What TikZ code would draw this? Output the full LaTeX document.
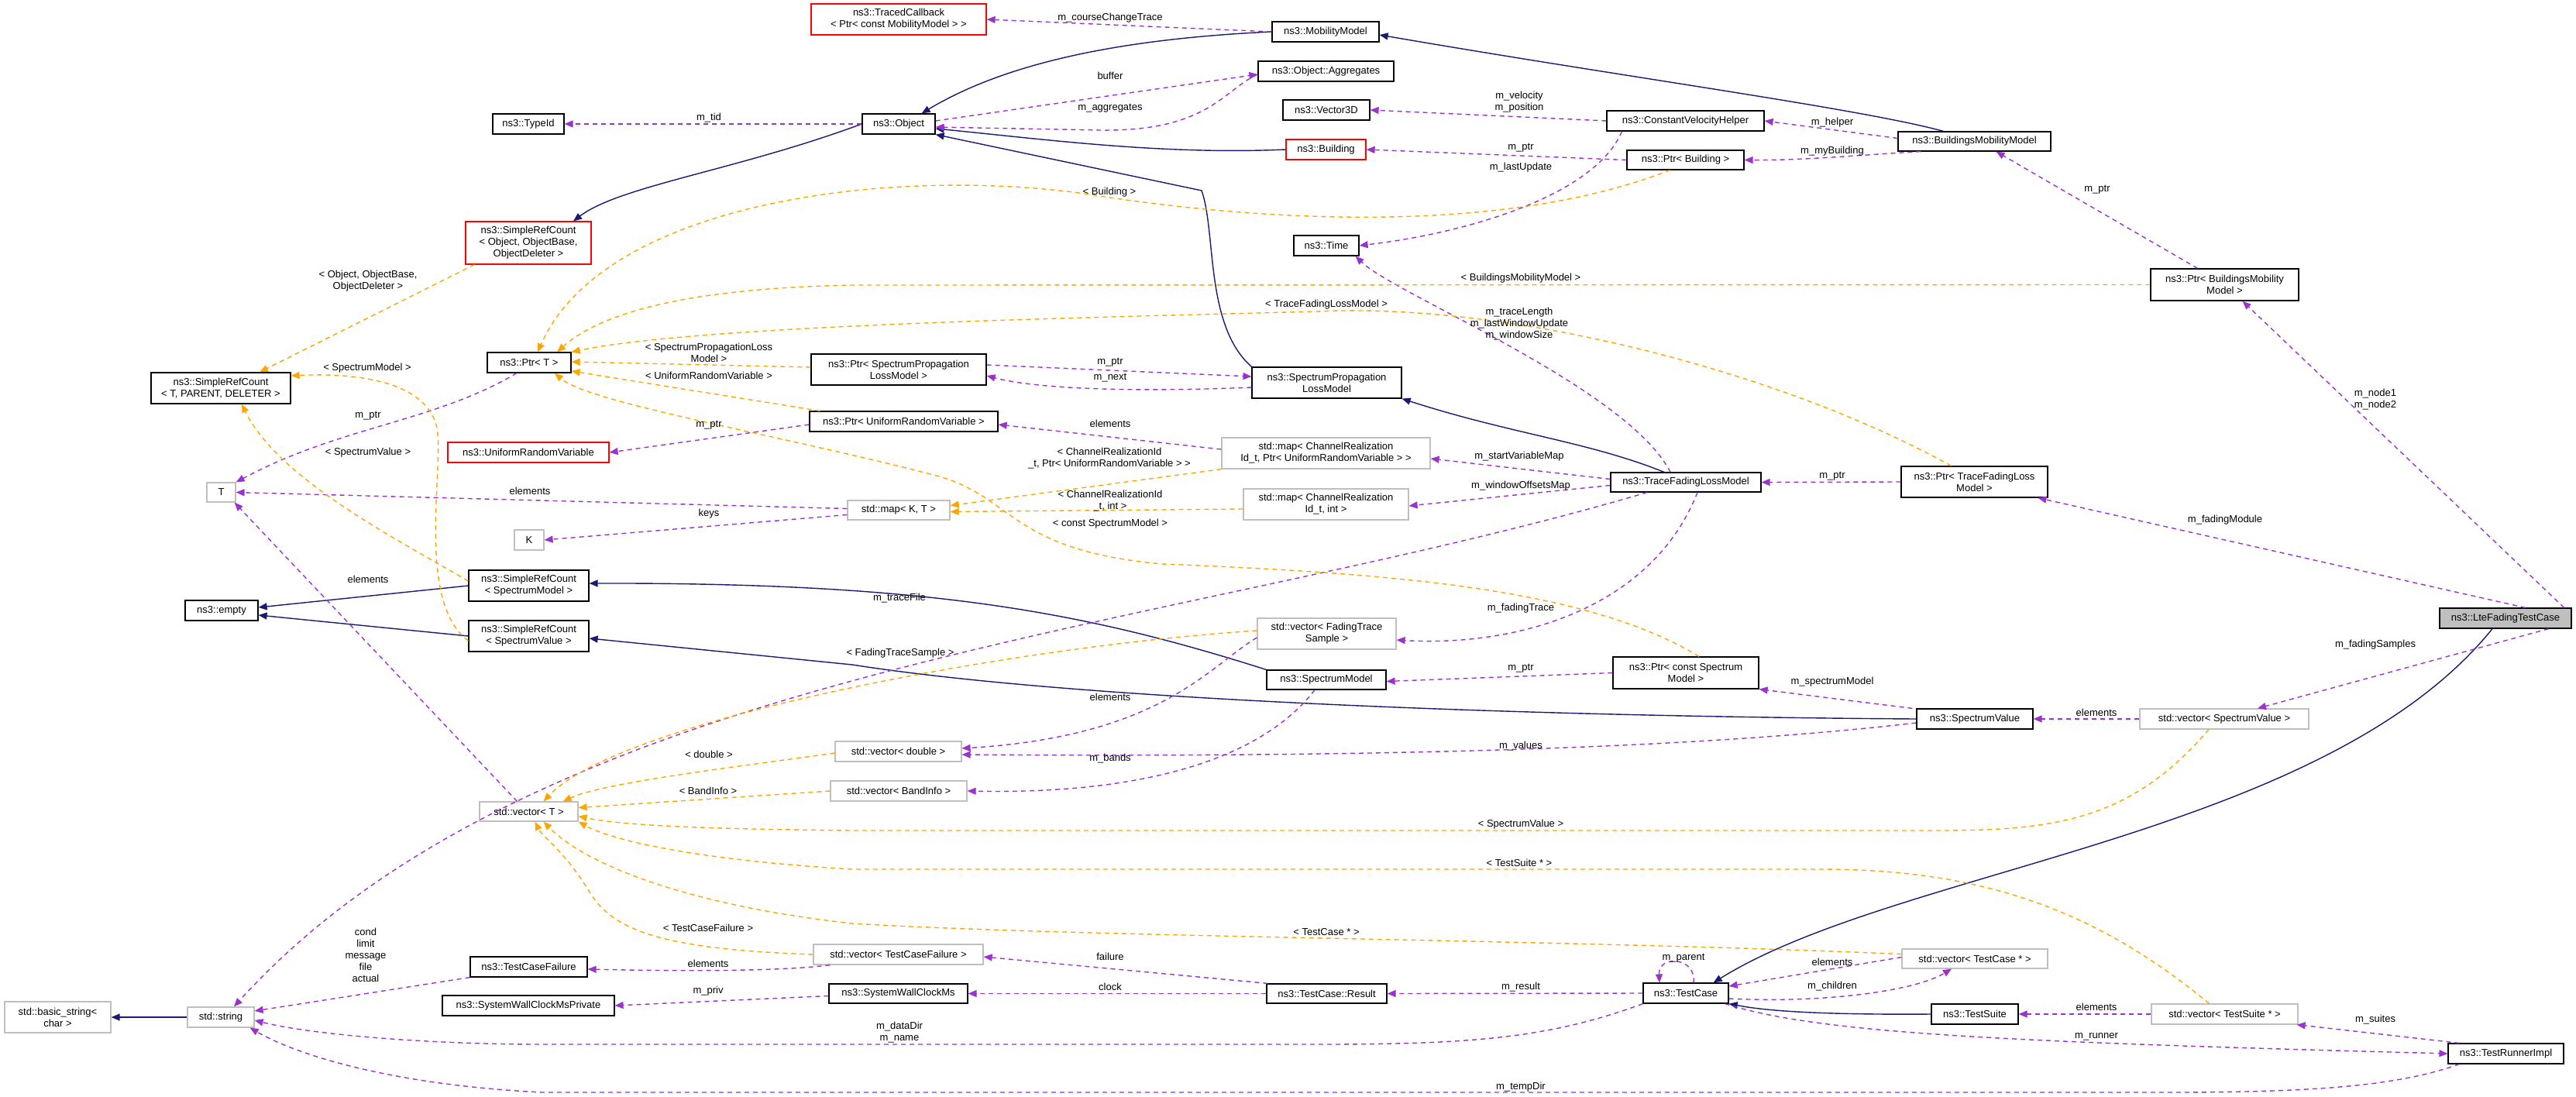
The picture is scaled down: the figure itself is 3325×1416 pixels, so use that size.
\documentclass[tikz,border=0pt]{standalone}
\usepackage{fontspec}
\setmainfont{Liberation Sans}
\usetikzlibrary{arrows.meta}
\definecolor{inhcol}{RGB}{25,25,112}
\definecolor{usecol}{RGB}{154,50,205}
\definecolor{tplcol}{RGB}{255,165,0}
\definecolor{grayline}{RGB}{191,191,191}
% box from corner (x1,y1) to (x2,y2), in pixels
\newcommand{\cls}[7][]{\node[box,#1,minimum width={(#5-#3)*1pt},minimum height={(#6-#4)*1pt}] (#2) at ({(#3+#5)/2},{(#4+#6)/2}) {#7};}
\begin{document}
\begin{tikzpicture}[x=1pt,y=-1pt,
  font=\fontsize{13}{15}\selectfont,
  box/.style={draw=black,line width=1.2pt,fill=white,inner sep=0pt,align=center},
  redbox/.style={draw=red},
  graybox/.style={draw=grayline},
  inh/.style={inhcol,line width=1.4pt,-{Triangle[length=11pt,width=9pt]}},
  use/.style={usecol,line width=1.4pt,dash pattern=on 6pt off 5pt,-{Triangle[length=11pt,width=9pt]}},
  tpl/.style={tplcol,line width=1.4pt,dash pattern=on 6pt off 5pt,-{Triangle[length=11pt,width=9pt]}},
  lbl/.style={inner sep=0pt,align=center}]
\useasboundingbox (0,0) rectangle (3325,1416);
% classes
\cls[redbox]{tcb}{1047}{5}{1273}{45}{ns3::TracedCallback\\< Ptr< const MobilityModel > >}
\cls{mob}{1642}{28}{1780}{54}{ns3::MobilityModel}
\cls{tid}{636}{147}{728}{173}{ns3::TypeId}
\cls{obj}{1113}{147}{1207}{173}{ns3::Object}
\cls{agg}{1624}{79}{1799}{105}{ns3::Object::Aggregates}
\cls{v3d}{1656}{129}{1768}{155}{ns3::Vector3D}
\cls{cvh}{2074}{143}{2277}{169}{ns3::ConstantVelocityHelper}
\cls[redbox]{bld}{1660}{180}{1763}{206}{ns3::Building}
\cls{pbld}{2100}{194}{2251}{219}{ns3::Ptr< Building >}
\cls{bmm}{2450}{170}{2647}{195}{ns3::BuildingsMobilityModel}
\cls[redbox]{srco}{601}{286}{763}{341}{ns3::SimpleRefCount\\< Object, ObjectBase,\\ObjectDeleter >}
\cls{time}{1670}{304}{1754}{330}{ns3::Time}
\cls{pbmm}{2776}{347}{2967}{388}{ns3::Ptr< BuildingsMobility\\Model >}
\cls{pt}{629}{455}{737}{481}{ns3::Ptr< T >}
\cls{psplm}{1047}{457}{1273}{497}{ns3::Ptr< SpectrumPropagation\\LossModel >}
\cls{splm}{1616}{474}{1809}{514}{ns3::SpectrumPropagation\\LossModel}
\cls{srctpd}{195}{481}{375}{521}{ns3::SimpleRefCount\\< T, PARENT, DELETER >}
\cls{purv}{1045}{531}{1288}{557}{ns3::Ptr< UniformRandomVariable >}
\cls[graybox]{mapu}{1577}{565}{1846}{605}{std::map< ChannelRealization\\Id\_t, Ptr< UniformRandomVariable > >}
\cls[redbox]{urv}{578}{571}{786}{597}{ns3::UniformRandomVariable}
\cls{ptflm}{2454}{602}{2643}{642}{ns3::Ptr< TraceFadingLoss\\Model >}
\cls{tflm}{2079}{610}{2273}{635}{ns3::TraceFadingLossModel}
\cls[graybox]{t}{267}{623}{304}{648}{T}
\cls[graybox]{mapi}{1605}{631}{1818}{671}{std::map< ChannelRealization\\Id\_t, int >}
\cls[graybox]{mapkt}{1094}{646}{1226}{671}{std::map< K, T >}
\cls[graybox]{k}{664}{684}{702}{710}{K}
\cls{srcsm}{605}{736}{760}{776}{ns3::SimpleRefCount\\< SpectrumModel >}
\cls{empty}{239}{775}{333}{801}{ns3::empty}
\cls[fill=grayline]{lfc}{3149}{785}{3319}{811}{ns3::LteFadingTestCase}
\cls[graybox]{vfts}{1623}{798}{1802}{838}{std::vector< FadingTrace\\Sample >}
\cls{srcsv}{605}{801}{760}{841}{ns3::SimpleRefCount\\< SpectrumValue >}
\cls{psm}{2082}{848}{2270}{889}{ns3::Ptr< const Spectrum\\Model >}
\cls{sm}{1635}{865}{1789}{890}{ns3::SpectrumModel}
\cls{sv}{2474}{915}{2624}{941}{ns3::SpectrumValue}
\cls[graybox]{vsv}{2762}{915}{2980}{941}{std::vector< SpectrumValue >}
\cls[graybox]{vdbl}{1078}{957}{1241}{983}{std::vector< double >}
\cls[graybox]{vbi}{1072}{1008}{1248}{1034}{std::vector< BandInfo >}
\cls[graybox]{vt}{619}{1035}{746}{1060}{std::vector< T >}
\cls[graybox]{vtcf}{1050}{1219}{1269}{1245}{std::vector< TestCaseFailure >}
\cls[graybox]{vtcp}{2455}{1225}{2643}{1250}{std::vector< TestCase * >}
\cls{tcf}{607}{1235}{758}{1261}{ns3::TestCaseFailure}
\cls{swcm}{1070}{1270}{1249}{1295}{ns3::SystemWallClockMs}
\cls{res}{1635}{1270}{1790}{1295}{ns3::TestCase::Result}
\cls{tc}{2121}{1269}{2231}{1295}{ns3::TestCase}
\cls{swcmp}{571}{1285}{793}{1311}{ns3::SystemWallClockMsPrivate}
\cls[graybox]{bstr}{6}{1293}{143}{1333}{std::basic\_string<\\char >}
\cls{ts}{2493}{1296}{2605}{1322}{ns3::TestSuite}
\cls[graybox]{vtsp}{2777}{1296}{2966}{1322}{std::vector< TestSuite * >}
\cls[graybox]{str}{242}{1300}{328}{1326}{std::string}
\cls{tri}{3160}{1347}{3309}{1373}{ns3::TestRunnerImpl}
% inheritance
\begin{scope}[on background layer/.style={}]
\draw[inh] (mob.west) .. controls (1450,50) and (1300,80) .. ([xshift=-18pt]obj.north east);
\draw[inh] (bld.west) .. controls (1500,200) and (1350,180) .. ([yshift=-6pt]obj.east);
\draw[inh] (splm.north west) .. controls (1555,420) and (1570,300) .. (1551,246) -- (obj.south east);
\draw[inh] ([xshift=-40pt]bmm.north) .. controls (2400,140) and (2100,100) .. ([yshift=-4pt]mob.east);
\draw[inh] ([xshift=-28pt]tflm.north) .. controls (2050,570) and (1950,560) .. (splm.south east);
\draw[inh] (obj.west) .. controls (950,220) and (800,240) .. ([xshift=58pt]srco.north);
\draw[inh] (srcsm.west) -- ([yshift=4pt]empty.east);
\draw[inh] (srcsv.west) -- ([yshift=-6pt]empty.east);
\draw[inh] (sm.north west) .. controls (1400,790) and (1200,752) .. ([yshift=3pt]srcsm.east);
\draw[inh] (sv.west) .. controls (2000,925) and (1400,905) .. (1100,858) -- ([yshift=-3pt]srcsv.east);
\draw[inh] ([xshift=-17pt]lfc.south) .. controls (3000,1080) and (2450,1120) .. ([xshift=-20pt]tc.north east);
\draw[inh] (ts.west) .. controls (2350,1310) and (2280,1305) .. (tc.south east);
\draw[inh] (str.west) -- (bstr.east);
\end{scope}
% usage
\draw[use] (mob.west) -- (tcb.east);
\draw[use] (obj.west) -- (tid.east);
\draw[use] ([yshift=-4pt]agg.west) .. controls (1580,115) and (1560,170) .. (1420,168) -- ([yshift=-4pt]obj.east);
\draw[use] ([yshift=4pt]obj.east) -- ([yshift=-4pt]agg.west);
\draw[use] (cvh.west) -- (v3d.east);
\draw[use] ([xshift=20pt]cvh.south west) .. controls (2060,250) and (1900,300) .. (time.east);
\draw[use] (pbld.west) -- (bld.east);
\draw[use] ([yshift=4pt]bmm.west) -- (cvh.east);
\draw[use] ([xshift=30pt]bmm.south west) .. controls (2400,200) and (2330,207) .. (pbld.east);
\draw[use] ([xshift=-35pt]pbmm.north) -- ([xshift=28pt]bmm.south);
\draw[use] ([xshift=-10pt]lfc.north east) -- ([xshift=23pt]pbmm.south);
\draw[use] ([xshift=-60pt]lfc.north east) -- ([xshift=82pt]ptflm.south);
\draw[use] ([xshift=-30pt]lfc.south east) -- ([xshift=43pt]vsv.north);
\draw[use] (ptflm.west) -- (tflm.east);
\draw[use] ([xshift=-20pt]tflm.north) .. controls (2100,500) and (1800,380) .. ([xshift=-5pt]time.south east);
\draw[use] ([yshift=4pt]tflm.west) -- ([yshift=-7pt]mapu.east);
\draw[use] ([yshift=-4pt]tflm.west) -- ([yshift=-2pt]mapi.east);
\draw[use] ([xshift=-50pt]tflm.south) .. controls (1500,820) and (700,860) .. ([xshift=17pt]str.north);
\draw[use] ([xshift=15pt]tflm.south) .. controls (2130,790) and (1950,835) .. ([yshift=-8pt]vfts.east);
\draw[use] ([yshift=6pt]psplm.east) -- ([yshift=8pt]splm.west);
\draw[use] ([yshift=-6pt]splm.west) .. controls (1500,505) and (1350,505) .. ([yshift=-8pt]psplm.east);
\draw[use] ([yshift=5pt]mapu.west) -- ([yshift=-4pt]purv.east);
\draw[use] ([yshift=-4pt]purv.west) -- (urv.east);
\draw[use] ([xshift=-16pt]pt.south) .. controls (560,545) and (440,550) .. (t.north east);
\draw[use] ([yshift=2pt]mapkt.west) -- (t.east);
\draw[use] ([yshift=-6pt]mapkt.west) -- (k.east);
\draw[use] ([xshift=-15pt]vt.north) -- ([xshift=-2pt]t.south east);
\draw[use] ([yshift=-5pt]vfts.west) .. controls (1560,860) and (1500,950) .. ([yshift=4pt]vdbl.east);
\draw[use] ([yshift=-5pt]sv.west) .. controls (2200,965) and (1800,978) .. ([yshift=-4pt]vdbl.east);
\draw[use] ([xshift=-15pt]sm.south) .. controls (1620,990) and (1450,1025) .. (vbi.east);
\draw[use] (psm.west) -- ([yshift=-2pt]sm.east);
\draw[use] ([xshift=-5pt]sv.north west) -- (psm.south east);
\draw[use] (vsv.west) -- (sv.east);
\draw[use] ([xshift=22pt]vtcf.south west) .. controls (1000,1255) and (850,1253) .. ([yshift=-3pt]tcf.east);
\draw[use] (tcf.south west) -- ([yshift=8pt]str.east);
\draw[use] ([yshift=-3pt]swcm.west) -- (swcmp.east);
\draw[use] ([xshift=2pt]res.north west) -- ([yshift=-3pt]vtcf.east);
\draw[use] (res.west) -- (swcm.east);
\draw[use] (tc.west) -- (res.east);
\draw[use] ([xshift=10pt]tc.north) .. controls (2190,1235) and (2140,1232) .. ([xshift=-34pt]tc.north);
\draw[use] ([yshift=-7pt]tc.east) .. controls (2350,1295) and (2470,1280) .. ([xshift=-30pt]vtcp.south);
\draw[use] ([yshift=2pt]vtcp.west) -- ([yshift=9pt]tc.east);
\draw[use] (tc.south west) .. controls (2000,1340) and (1900,1348) .. (1700,1348) -- (700,1348) .. controls (550,1348) and (400,1335) .. ([yshift=-4pt]str.east);
\draw[use] (vtsp.west) -- (ts.east);
\draw[use] ([xshift=15pt]tri.north west) -- ([xshift=-2pt]vtsp.south east);
\draw[use] ([xshift=-5pt]tc.south east) .. controls (2350,1335) and (2600,1345) .. (tri.west);
\draw[use] ([xshift=15pt]tri.south west) .. controls (3100,1400) and (3000,1410) .. (2800,1410) -- (700,1410) .. controls (500,1400) and (380,1360) .. ([xshift=-6pt]str.south east);
% templates
\draw[tpl] ([xshift=12pt]srco.south west) -- ([xshift=50pt]srctpd.north);
\draw[tpl] ([yshift=6pt]srcsm.west) .. controls (520,700) and (360,620) .. ([xshift=27pt]srctpd.south);
\draw[tpl] ([yshift=-6pt]srcsv.west) .. controls (540,780) and (570,620) .. (565,560) .. controls (560,500) and (480,480) .. ([yshift=16pt]srctpd.east);
\draw[tpl] ([xshift=-20pt]pbld.south) .. controls (1950,300) and (1650,290) .. (1400,250) .. controls (1150,215) and (780,260) .. ([xshift=11pt]pt.north);
\draw[tpl] (pbmm.west) -- (1100,368) .. controls (900,372) and (780,400) .. ([xshift=36pt]pt.north);
\draw[tpl] ([xshift=-30pt]ptflm.north) .. controls (2300,480) and (1950,390) .. (1700,402) .. controls (1400,410) and (900,420) .. (pt.north east);
\draw[tpl] ([yshift=3pt]psplm.west) -- ([yshift=1pt]pt.east);
\draw[tpl] ([xshift=14pt]purv.north west) -- ([yshift=-11pt]pt.east);
\draw[tpl] ([xshift=17pt]psm.north) .. controls (2050,760) and (1800,740) .. (1500,728) .. controls (1300,710) and (1310,640) .. (1205,613) .. controls (1000,560) and (760,520) .. ([xshift=33pt]pt.south);
\draw[tpl] (mapu.south west) -- ([yshift=6pt]mapkt.east);
\draw[tpl] ([yshift=-6pt]mapi.west) -- ([yshift=-2pt]mapkt.east);
\draw[tpl] ([yshift=4pt]vfts.west) .. controls (1300,835) and (800,930) .. ([xshift=19pt]vt.north);
\draw[tpl] ([yshift=-2pt]vdbl.west) .. controls (950,990) and (780,1010) .. ([xshift=-20pt]vt.north east);
\draw[tpl] (vbi.west) -- ([yshift=5pt]vt.east);
\draw[tpl] ([xshift=-20pt]vsv.south) .. controls (2750,1060) and (2650,1072) .. (2500,1072) -- (1100,1072) .. controls (900,1070) and (800,1065) .. ([yshift=-6pt]vt.east);
\draw[tpl] ([xshift=-20pt]vtsp.north) .. controls (2700,1170) and (2550,1122) .. (2350,1122) -- (1100,1122) .. controls (900,1110) and (790,1085) .. (vt.south east);
\draw[tpl] ([yshift=6pt]vtcp.west) .. controls (2000,1212) and (1400,1210) .. (1100,1192) .. controls (900,1170) and (760,1120) .. ([xshift=19pt]vt.south);
\draw[tpl] (vtcf.west) .. controls (850,1225) and (790,1200) .. (760,1150) .. controls (730,1100) and (700,1080) .. ([xshift=8pt]vt.south);
% labels
\node[lbl] (l1) at (1433,23) {m\_courseChangeTrace};
\node[lbl] (l2) at (915,152) {m\_tid};
\node[lbl] (l3) at (1433,98) {buffer};
\node[lbl] (l4) at (1433,140) {m\_aggregates};
\node[lbl] (l5) at (1961,132) {m\_velocity\\m\_position};
\node[lbl] (l6) at (1963,191) {m\_ptr};
\node[lbl] (l7) at (1963,216) {m\_lastUpdate};
\node[lbl] (l8) at (2365,158) {m\_helper};
\node[lbl] (l9) at (2365,195) {m\_myBuilding};
\node[lbl] (l10) at (2707,245) {m\_ptr};
\node[lbl] (l11) at (1432,248) {< Building >};
\node[lbl] (l12) at (1963,359) {< BuildingsMobilityModel >};
\node[lbl] (l13) at (1712,393) {< TraceFadingLossModel >};
\node[lbl] (l14) at (1961,418) {m\_traceLength\\m\_lastWindowUpdate\\m\_windowSize};
\node[lbl] (l15) at (475,363) {< Object, ObjectBase,\\ObjectDeleter >};
\node[lbl] (l16) at (474,475) {< SpectrumModel >};
\node[lbl] (l17) at (915,455) {< SpectrumPropagationLoss\\Model >};
\node[lbl] (l18) at (1433,468) {m\_ptr};
\node[lbl] (l19) at (1433,488) {m\_next};
\node[lbl] (l20) at (915,485) {< UniformRandomVariable >};
\node[lbl] (l21) at (475,537) {m\_ptr};
\node[lbl] (l22) at (915,549) {m\_ptr};
\node[lbl] (l23) at (475,584) {< SpectrumValue >};
\node[lbl] (l24) at (1433,547) {elements};
\node[lbl] (l25) at (1432,592) {< ChannelRealizationId\\\_t, Ptr< UniformRandomVariable > >};
\node[lbl] (l26) at (1961,589) {m\_startVariableMap};
\node[lbl] (l27) at (1963,627) {m\_windowOffsetsMap};
\node[lbl] (l28) at (2365,615) {m\_ptr};
\node[lbl] (l29) at (684,634) {elements};
\node[lbl] (l30) at (1433,647) {< ChannelRealizationId\\\_t, int >};
\node[lbl] (l31) at (915,663) {keys};
\node[lbl] (l32) at (2872,671) {m\_fadingModule};
\node[lbl] (l33) at (1433,676) {< const SpectrumModel >};
\node[lbl] (l34) at (3066,516) {m\_node1\\m\_node2};
\node[lbl] (l35) at (475,748) {elements};
\node[lbl] (l36) at (1161,772) {m\_traceFile};
\node[lbl] (l37) at (1963,785) {m\_fadingTrace};
\node[lbl] (l38) at (3066,832) {m\_fadingSamples};
\node[lbl] (l39) at (1162,843) {< FadingTraceSample >};
\node[lbl] (l40) at (1963,863) {m\_ptr};
\node[lbl] (l41) at (2365,880) {m\_spectrumModel};
\node[lbl] (l42) at (1433,900) {elements};
\node[lbl] (l43) at (2706,920) {elements};
\node[lbl] (l44) at (1963,963) {m\_values};
\node[lbl] (l45) at (1433,979) {m\_bands};
\node[lbl] (l46) at (915,974) {< double >};
\node[lbl] (l47) at (914,1021) {< BandInfo >};
\node[lbl] (l48) at (1963,1064) {< SpectrumValue >};
\node[lbl] (l49) at (1961,1114) {< TestSuite * >};
\node[lbl] (l50) at (914,1198) {< TestCaseFailure >};
\node[lbl] (l51) at (1712,1203) {< TestCase * >};
\node[lbl] (l52) at (472,1233) {cond\\limit\\message\\file\\actual};
\node[lbl] (l53) at (914,1244) {elements};
\node[lbl] (l54) at (1433,1235) {failure};
\node[lbl] (l55) at (2173,1237) {m\_parent};
\node[lbl] (l56) at (2365,1242) {elements};
\node[lbl] (l57) at (914,1279) {m\_priv};
\node[lbl] (l58) at (1433,1274) {clock};
\node[lbl] (l59) at (1963,1274) {m\_result};
\node[lbl] (l60) at (2365,1273) {m\_children};
\node[lbl] (l61) at (2706,1300) {elements};
\node[lbl] (l62) at (3066,1316) {m\_suites};
\node[lbl] (l63) at (1161,1333) {m\_dataDir\\m\_name};
\node[lbl] (l64) at (2706,1338) {m\_runner};
\node[lbl] (l65) at (1963,1403) {m\_tempDir};
\end{tikzpicture}
\end{document}
